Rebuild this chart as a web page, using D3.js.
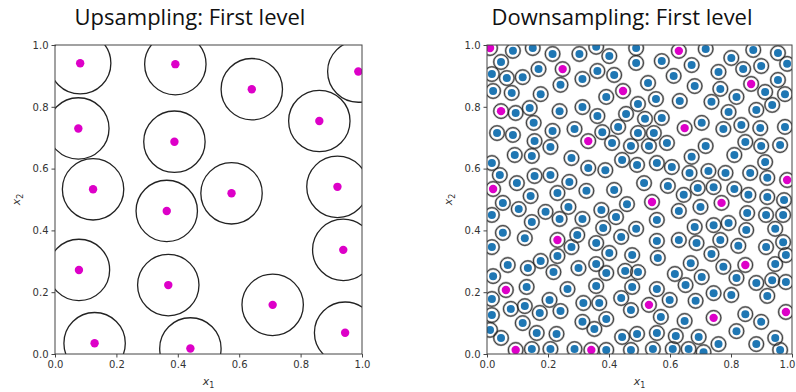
<!DOCTYPE html>
<html>
<head>
<meta charset="utf-8">
<script src="https://cdn.jsdelivr.net/npm/d3@7"></script>
<style>
  body { margin: 0; background: #fff; }
  svg { display: block; }
  .tick text { font-family: "DejaVu Sans", sans-serif; font-size: 10px; fill: #333; }
  .tick line { stroke: #444; }
  .domain { stroke: none; }
  .title { font-family: "Open Sans", sans-serif; font-size: 22px; fill: #111; }
  .alabel { font-family: "DejaVu Sans", sans-serif; font-size: 11px; fill: #333; }
</style>
</head>
<body>
<div id="chart"></div>
<script>
// --- data ---
const titles = ["Upsampling: First level", "Downsampling: First level"];
const ticks = [0, 0.2, 0.4, 0.6, 0.8, 1.0];

// left panel: upsampled points (big neighbourhoods)
const upX = [0.082, 0.392, 0.641, 0.988, 0.076, 0.389, 0.861, 0.124, 0.575, 0.920,
             0.364, 0.078, 0.939, 0.369, 0.709, 0.129, 0.441, 0.945];
const upY = [0.941, 0.938, 0.857, 0.914, 0.730, 0.687, 0.754, 0.533, 0.520, 0.541,
             0.463, 0.272, 0.337, 0.223, 0.159, 0.035, 0.018, 0.069];
const upRadius = 0.1;

// right panel: fine points (blue) and selected coarse points (magenta)
const downX = [0.085,0.150,0.215,0.303,0.358,0.401,0.489,0.046,0.489,0.169,0.362,0.016,0.065,0.117,0.313,0.417,0.241,0.020,0.081,0.176,
  0.391,0.495,0.094,0.140,0.238,0.313,0.362,0.456,0.153,0.033,0.085,0.215,0.287,0.378,0.430,0.156,0.208,0.410,0.472,0.717,
  0.873,0.954,0.573,0.671,0.801,0.759,0.840,0.899,0.984,0.612,0.681,0.954,0.528,0.765,0.912,0.977,0.554,0.632,0.736,0.818,
  0.935,0.883,0.792,0.518,0.573,0.704,0.775,0.834,0.896,0.977,0.495,0.547,0.847,0.961,0.590,0.531,0.717,0.899,0.091,0.147,
  0.277,0.443,0.016,0.332,0.388,0.042,0.156,0.208,0.098,0.270,0.326,0.417,0.231,0.143,0.052,0.267,0.459,0.104,0.192,0.375,
  0.016,0.238,0.313,0.423,0.147,0.381,0.489,0.052,0.124,0.296,0.440,0.358,0.277,0.016,0.671,0.811,0.492,0.557,0.606,0.664,
  0.726,0.782,0.863,0.912,0.919,0.515,0.593,0.691,0.743,0.811,0.645,0.857,0.919,0.974,0.629,0.700,0.853,0.915,0.971,0.557,
  0.681,0.743,0.792,0.945,0.850,0.629,0.557,0.687,0.765,0.824,0.915,0.971,0.231,0.401,0.476,0.068,0.134,0.176,0.218,0.300,
  0.358,0.391,0.453,0.495,0.020,0.130,0.264,0.358,0.476,0.016,0.205,0.316,0.368,0.440,0.078,0.124,0.173,0.241,0.472,0.016,
  0.117,0.313,0.391,0.010,0.163,0.228,0.352,0.443,0.046,0.147,0.208,0.287,0.391,0.472,0.560,0.668,0.736,0.775,0.945,0.980,
  0.616,0.704,0.818,0.935,0.980,0.557,0.651,0.883,0.743,0.801,0.919,0.599,0.684,0.847,0.570,0.648,0.899,0.492,0.557,0.619,
  0.694,0.818,0.945,0.544,0.609,0.661,0.710,0.759,0.883,0.961];
const downY = [0.981,0.990,0.971,0.971,0.994,0.964,0.990,0.945,0.942,0.922,0.916,0.906,0.893,0.896,0.890,0.903,0.871,0.851,0.845,0.841,
  0.832,0.809,0.780,0.796,0.786,0.799,0.770,0.777,0.748,0.715,0.709,0.722,0.728,0.718,0.735,0.689,0.670,0.683,0.673,0.987,
  0.984,0.974,0.948,0.935,0.958,0.913,0.922,0.932,0.939,0.900,0.867,0.887,0.877,0.858,0.848,0.841,0.825,0.819,0.816,0.832,
  0.806,0.790,0.783,0.761,0.764,0.748,0.728,0.741,0.731,0.735,0.715,0.715,0.686,0.676,0.683,0.673,0.673,0.673,0.644,0.641,
  0.634,0.628,0.618,0.602,0.595,0.579,0.576,0.579,0.553,0.557,0.528,0.531,0.521,0.511,0.489,0.476,0.485,0.469,0.460,0.466,
  0.450,0.437,0.437,0.443,0.427,0.408,0.405,0.392,0.375,0.385,0.379,0.359,0.346,0.346,0.638,0.644,0.612,0.618,0.605,0.586,
  0.592,0.586,0.586,0.621,0.570,0.553,0.544,0.537,0.540,0.534,0.515,0.515,0.508,0.498,0.463,0.476,0.456,0.450,0.450,0.434,
  0.411,0.417,0.424,0.405,0.401,0.369,0.366,0.359,0.369,0.350,0.346,0.362,0.317,0.327,0.320,0.288,0.278,0.301,0.265,0.278,
  0.291,0.262,0.269,0.265,0.252,0.217,0.210,0.220,0.217,0.178,0.175,0.165,0.165,0.181,0.146,0.155,0.133,0.139,0.142,0.126,
  0.100,0.104,0.113,0.078,0.068,0.065,0.081,0.055,0.052,0.016,0.016,0.016,0.013,0.013,0.311,0.294,0.324,0.282,0.291,0.320,
  0.259,0.249,0.246,0.239,0.233,0.210,0.223,0.230,0.197,0.191,0.188,0.175,0.172,0.129,0.120,0.107,0.104,0.065,0.068,0.058,
  0.055,0.074,0.052,0.016,0.016,0.016,0.006,0.032,0.032,0.013];
const keepX = [0.010,0.629,0.248,0.446,0.866,0.046,0.648,0.332,0.020,0.231,
               0.984,0.541,0.769,0.847,0.062,0.531,0.743,0.980,0.094,0.342];
const keepY = [0.990,0.981,0.922,0.851,0.874,0.786,0.731,0.689,0.534,0.369,
               0.563,0.492,0.489,0.288,0.207,0.159,0.117,0.136,0.013,0.013];
const downRadius = 0.024;

// --- layout ---
const W = 796, H = 392;
const panels = [
  { left: 55, top: 45, size: 307, titleX: 190 },
  { left: 487, top: 45, size: 305, titleX: 622 }
];
const magenta = "#dd00c8", blue = "#1f77b4";

const svg = d3.select("#chart").append("svg")
  .attr("width", W).attr("height", H);

panels.forEach((p, i) => {
  const x = d3.scaleLinear().domain([0, 1]).range([0, p.size]);
  const y = d3.scaleLinear().domain([0, 1]).range([309, 0]);
  const g = svg.append("g").attr("transform", `translate(${p.left},${p.top})`);

  g.append("clipPath").attr("id", "clip" + i)
    .append("rect").attr("width", p.size).attr("height", 309);

  const plot = g.append("g").attr("clip-path", `url(#clip${i})`);

  if (i === 0) {
    const pts = upX.map((v, k) => [v, upY[k]]);
    plot.selectAll("circle.ring").data(pts).enter().append("circle")
      .attr("class", "ring")
      .attr("cx", d => x(d[0])).attr("cy", d => y(d[1]))
      .attr("r", x(upRadius) - x(0))
      .attr("fill", "none").attr("stroke", "#222").attr("stroke-width", 1.3);
    plot.selectAll("circle.dot").data(pts).enter().append("circle")
      .attr("class", "dot")
      .attr("cx", d => x(d[0])).attr("cy", d => y(d[1]))
      .attr("r", 4.2).attr("fill", magenta);
  } else {
    const fine = downX.map((v, k) => [v, downY[k]]);
    const kept = keepX.map((v, k) => [v, keepY[k]]);
    const rr = x(downRadius) - x(0);
    // soft halo + thin dark ring
    plot.selectAll("circle.halo").data(fine.concat(kept)).enter().append("circle")
      .attr("class", "halo")
      .attr("cx", d => x(d[0])).attr("cy", d => y(d[1]))
      .attr("r", rr)
      .attr("fill", "none").attr("stroke", "#888").attr("stroke-width", 2.2)
      .attr("stroke-opacity", 0.7);
    plot.selectAll("circle.ring").data(fine.concat(kept)).enter().append("circle")
      .attr("class", "ring")
      .attr("cx", d => x(d[0])).attr("cy", d => y(d[1]))
      .attr("r", rr)
      .attr("fill", "none").attr("stroke", "#111").attr("stroke-width", 0.9)
      .attr("stroke-opacity", 0.8);
    plot.selectAll("circle.fine").data(fine).enter().append("circle")
      .attr("class", "fine")
      .attr("cx", d => x(d[0])).attr("cy", d => y(d[1]))
      .attr("r", 4).attr("fill", blue);
    plot.selectAll("circle.kept").data(kept).enter().append("circle")
      .attr("class", "kept")
      .attr("cx", d => x(d[0])).attr("cy", d => y(d[1]))
      .attr("r", 4.2).attr("fill", magenta);
  }

  // axes
  const xa = g.append("g").attr("transform", "translate(0,309)")
    .call(d3.axisBottom(x).tickValues(ticks).tickFormat(d3.format(".1f")).tickSize(3.5).tickPadding(3));
  if (i === 1) xa.selectAll(".tick:last-of-type text").attr("dx", -5);
  g.append("g")
    .call(d3.axisLeft(y).tickValues(ticks).tickFormat(d3.format(".1f")).tickSize(3.5).tickPadding(3));

  // frame
  g.append("rect").attr("width", p.size).attr("height", 309)
    .attr("fill", "none").attr("stroke", "#444").attr("stroke-width", 1);

  svg.append("text").attr("class", "title")
    .attr("x", p.titleX).attr("y", 25).attr("text-anchor", "middle")
    .text(titles[i]);

  const xl = svg.append("text").attr("class", "alabel")
    .attr("x", p.left + p.size / 2).attr("y", 385).attr("text-anchor", "middle");
  xl.append("tspan").attr("font-style", "italic").text("x");
  xl.append("tspan").attr("font-size", "8px").attr("dy", 3).text("1");

  const yl = svg.append("text").attr("class", "alabel")
    .attr("transform", `translate(${p.left - 35},${p.top + 309 / 2}) rotate(-90)`)
    .attr("text-anchor", "middle");
  yl.append("tspan").attr("font-style", "italic").text("x");
  yl.append("tspan").attr("font-size", "8px").attr("dy", 3).text("2");
});
</script>
</body>
</html>
